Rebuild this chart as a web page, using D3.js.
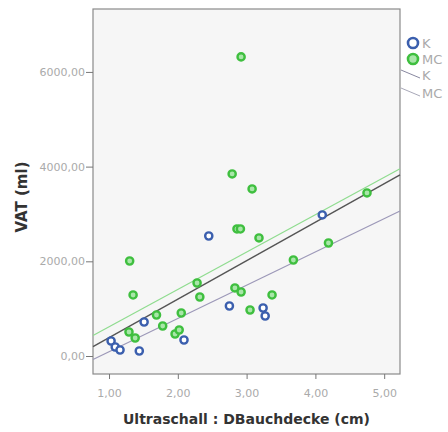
<!DOCTYPE html>
<html><head><meta charset="utf-8">
<script src="https://cdn.jsdelivr.net/npm/d3@7"></script>
<style>body{margin:0;background:#fff;}svg{display:block;}</style>
</head><body>
<svg id="c" width="448" height="432"></svg>
<script>
const groups = ["K", "MC"];
const kX = [2.45, 4.10, 2.75, 3.24, 3.27, 1.51, 2.09, 1.44, 1.03, 1.09, 1.16];
const kY = [2535, 2979, 1056, 1014, 845, 718, 338, 106, 317, 190, 127];
const mcX = [2.92, 2.79, 3.08, 4.75, 2.86, 2.91, 3.18, 4.19, 1.30, 3.68, 1.35, 2.28, 2.32, 2.83, 2.92, 3.37, 3.05, 1.69, 2.05, 1.78, 1.29, 1.38, 1.96, 2.02];
const mcY = [6317, 3845, 3528, 3444, 2683, 2683, 2493, 2387, 2007, 2028, 1289, 1542, 1246, 1437, 1352, 1289, 972, 866, 908, 634, 507, 380, 465, 549];
const fitNames = ["lower", "total", "MC"];
const fitIntercepts = [-611, -423, -171];
const fitSlopes = [702.5, 812.7, 788.7];
const xTicks = [1, 2, 3, 4, 5];
const yTicks = [0, 2000, 4000, 6000];

const FONT = "'DejaVu Sans', Verdana, sans-serif";
const svg = d3.select("#c");
const L = 93, R = 400, T = 9, B = 374;
const x = d3.scaleLinear().domain([0.767, 5.23]).range([L, R]);
const y = d3.scaleLinear().domain([-380, 7329]).range([B, T]);
const fmt = v => d3.format(".2f")(v).replace(".", ",");

svg.append("rect").attr("x", L).attr("y", T).attr("width", R - L).attr("height", B - T)
  .attr("fill", "#f6f6f6").attr("stroke", "#8a8a8a").attr("stroke-width", 1.2);

const xa = svg.append("g").attr("transform", `translate(0,${B})`)
  .call(d3.axisBottom(x).tickValues(xTicks).tickFormat(fmt).tickSize(5).tickSizeOuter(0));
const ya = svg.append("g").attr("transform", `translate(${L},0)`)
  .call(d3.axisLeft(y).tickValues(yTicks).tickFormat(fmt).tickSize(7).tickSizeOuter(0));
[xa, ya].forEach(a => {
  a.select(".domain").remove();
  a.selectAll("line").attr("stroke", "#777");
  a.selectAll("text").attr("fill", "#aaa").style("font-family", FONT).style("font-size", "11px");
});
xa.selectAll("text").attr("dy", "1.35em");
ya.selectAll("text").attr("x", -8);

// fit lines
const fitColors = ["#9c98b8", "#555555", "#8fdc8f"];
const fitWidths = [1.2, 1.4, 1.2];
fitNames.forEach((n, i) => {
  const f = v => fitIntercepts[i] + fitSlopes[i] * v;
  const d0 = x.domain()[0], d1 = x.domain()[1];
  svg.append("line").attr("x1", x(d0)).attr("y1", y(f(d0))).attr("x2", x(d1)).attr("y2", y(f(d1)))
    .attr("stroke", fitColors[i]).attr("stroke-width", fitWidths[i]);
});

// points
const kPts = kX.map((v, i) => [v, kY[i]]);
const mcPts = mcX.map((v, i) => [v, mcY[i]]);
svg.append("g").selectAll("circle").data(mcPts).join("circle")
  .attr("cx", d => x(d[0])).attr("cy", d => y(d[1])).attr("r", 3.6)
  .attr("fill", "#a9e6a9").attr("stroke", "#3fbf3f").attr("stroke-width", 2.4);
svg.append("g").selectAll("circle").data(kPts).join("circle")
  .attr("cx", d => x(d[0])).attr("cy", d => y(d[1])).attr("r", 3.6)
  .attr("fill", "#ffffff").attr("stroke", "#3b5fae").attr("stroke-width", 2.4);

// titles
svg.append("text").attr("x", (L + R) / 2).attr("y", 424).attr("text-anchor", "middle")
  .attr("fill", "#333").style("font-family", FONT)
  .style("font-size", "14px").style("font-weight", "bold").text("Ultraschall : DBauchdecke (cm)");
svg.append("text").attr("transform", `translate(27,197) rotate(-90)`).attr("text-anchor", "middle")
  .attr("fill", "#333").style("font-family", FONT)
  .style("font-size", "15px").style("font-weight", "bold").text("VAT (ml)");

// legend
const lg = svg.append("g").style("font-family", FONT).style("font-size", "13px");
const legColors = ["#3b5fae", "#3fbf3f"];
groups.forEach((g, i) => {
  const cy = 43 + i * 16;
  lg.append("circle").attr("cx", 413).attr("cy", cy).attr("r", 5).attr("fill", i ? "#a9e6a9" : "#fff")
    .attr("stroke", legColors[i]).attr("stroke-width", 2.6);
  lg.append("text").attr("x", 422).attr("y", cy + 5).attr("fill", "#aaa").text(g);
});
groups.forEach((g, i) => {
  const cy = 74 + i * 18;
  lg.append("line").attr("x1", 401).attr("y1", cy - 4).attr("x2", 420).attr("y2", cy + 4)
    .attr("stroke", i ? "#a8a8b8" : "#8888a0").attr("stroke-width", 1);
  lg.append("text").attr("x", 422).attr("y", cy + 6).attr("fill", "#aaa").text(g);
});
</script>
</body></html>
